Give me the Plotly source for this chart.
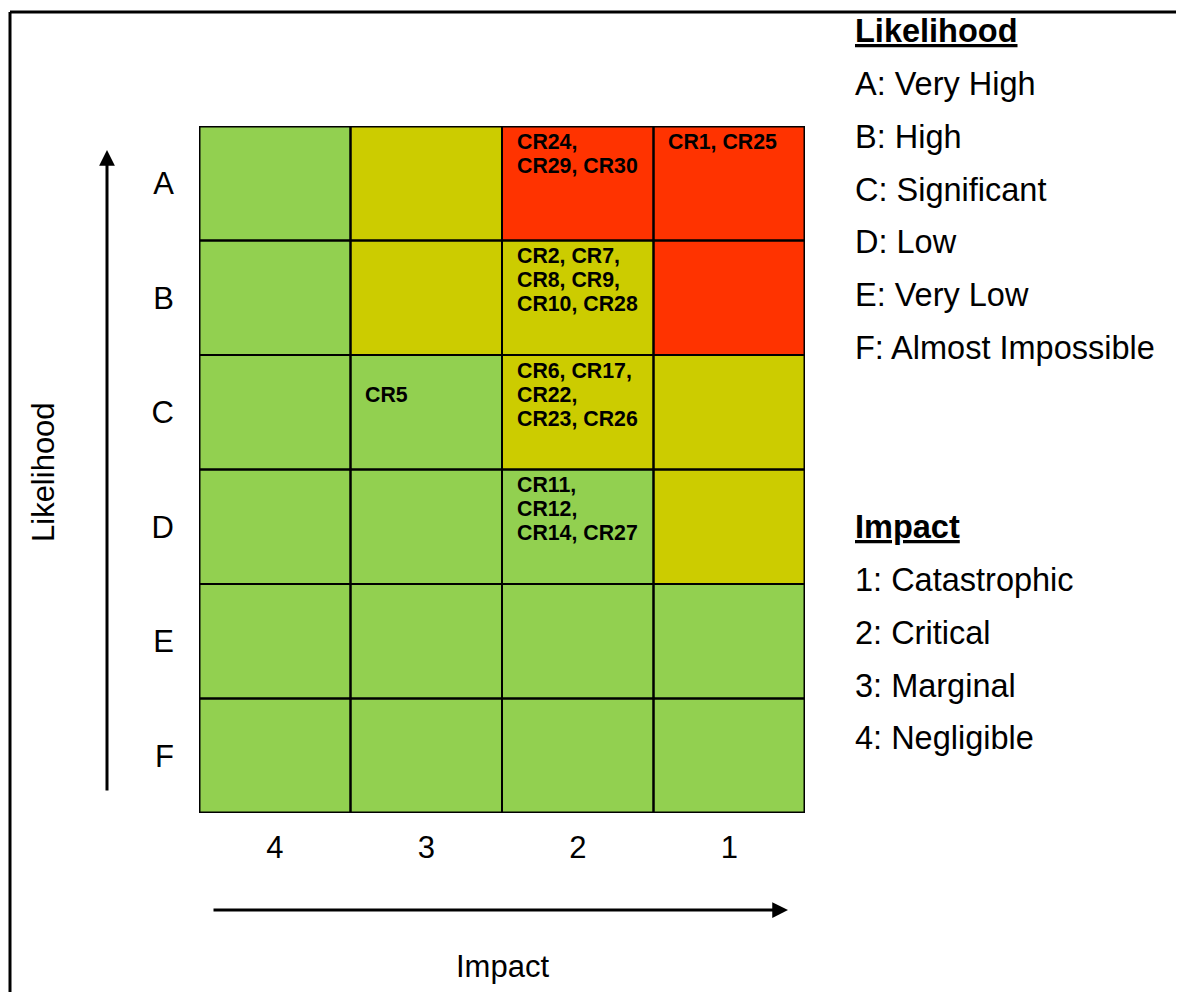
import plotly.graph_objects as go

# ---------------- data ----------------
likelihood = ["A", "B", "C", "D", "E", "F"]
impact = ["4", "3", "2", "1"]
# risk level per cell: 0 = low (green), 1 = medium (yellow), 2 = high (red)
risk_level = [
    [0, 1, 2, 2],
    [0, 1, 1, 2],
    [0, 0, 1, 1],
    [0, 0, 0, 1],
    [0, 0, 0, 0],
    [0, 0, 0, 0],
]
cell_risks = {
    ("A", "2"): "CR24,\nCR29, CR30",
    ("A", "1"): "CR1, CR25",
    ("B", "2"): "CR2, CR7,\nCR8, CR9,\nCR10, CR28",
    ("C", "3"): "\nCR5",
    ("C", "2"): "CR6, CR17,\nCR22,\nCR23, CR26",
    ("D", "2"): "CR11,\nCR12,\nCR14, CR27",
}
likelihood_legend = ["A: Very High", "B: High", "C: Significant", "D: Low",
                     "E: Very Low", "F: Almost Impossible"]
impact_legend = ["1: Catastrophic", "2: Critical", "3: Marginal", "4: Negligible"]
level_colors = ["#92D050", "#CCCC00", "#FF3300"]

# ---------------- layout geometry (page pixels) ----------------
OFF = 8                     # page body margin
W, H = 1184 - OFF, 992 - OFF
X0, X1, Y0, Y1 = 199, 805, 126, 813
FONT = "Arial, Liberation Sans, sans-serif"
LEG_SIZE = 32.5


def px(x):
    return (x - X0) / (X1 - X0)


def py(y):
    return (Y1 - y) / (Y1 - Y0)


fig = go.Figure()
fig.add_trace(go.Heatmap(
    x=list(range(len(impact))),
    y=list(range(len(likelihood))),
    z=risk_level,
    zmin=0, zmax=2,
    colorscale=[[0, level_colors[0]], [0.5, level_colors[1]], [1, level_colors[2]]],
    showscale=False,
    hoverinfo="skip",
))

shapes = []
for i in range(len(likelihood)):
    for j in range(len(impact)):
        shapes.append(dict(type="rect", xref="x", yref="y",
                           x0=j - 0.5, x1=j + 0.5, y0=i - 0.5, y1=i + 0.5,
                           line=dict(color="black", width=2), layer="above"))
shapes.append(dict(type="rect", xref="x", yref="y",
                   x0=-0.5, x1=len(impact) - 0.5, y0=-0.5, y1=len(likelihood) - 0.5,
                   line=dict(color="black", width=3), layer="above"))
# page frame (top and left edges)
shapes.append(dict(type="line", xref="paper", yref="paper",
                   x0=px(10), x1=px(1200), y0=py(12), y1=py(12),
                   line=dict(color="black", width=3)))
shapes.append(dict(type="line", xref="paper", yref="paper",
                   x0=px(10), x1=px(10), y0=py(12), y1=py(1000),
                   line=dict(color="black", width=3)))

annotations = []
# cell texts
for (lk, im), txt in cell_risks.items():
    i = likelihood.index(lk)
    j = impact.index(im)
    for k, line in enumerate(txt.split("\n")):
        if not line:
            continue
        annotations.append(dict(
            x=j - 0.5, y=i - 0.5, xref="x", yref="y",
            xanchor="left", yanchor="top", xshift=12.5, yshift=-1.5 - 24 * k,
            text="<b>%s</b>" % line, showarrow=False,
            font=dict(family=FONT, size=21.3, color="black")))

# axis titles
annotations.append(dict(x=px(43), y=py(472), xref="paper", yref="paper",
                        xanchor="center", yanchor="middle",
                        text="Likelihood", textangle=-90, showarrow=False,
                        font=dict(family=FONT, size=31, color="black")))
annotations.append(dict(x=px(502), y=py(966), xref="paper", yref="paper",
                        xanchor="center", yanchor="middle",
                        text="Impact", showarrow=False,
                        font=dict(family=FONT, size=31, color="black")))

# arrows
annotations.append(dict(x=px(107), y=py(150), xref="paper", yref="paper",
                        ax=0, ay=792 - 150, text="", showarrow=True,
                        arrowhead=2, arrowsize=1.05, arrowwidth=3, arrowcolor="black",
                        standoff=0, startstandoff=0))
annotations.append(dict(x=px(788), y=py(910), xref="paper", yref="paper",
                        ax=212 - 788, ay=0, text="", showarrow=True,
                        arrowhead=2, arrowsize=1.05, arrowwidth=3, arrowcolor="black",
                        standoff=0, startstandoff=0))

# legend blocks
annotations.append(dict(x=px(853), y=py(31), xref="paper", yref="paper",
                        xanchor="left", yanchor="middle",
                        text="<b><u>Likelihood</u></b>", showarrow=False,
                        font=dict(family=FONT, size=LEG_SIZE, color="black")))
for k, t in enumerate(likelihood_legend):
    annotations.append(dict(x=px(853), y=py(84 + 52.8 * k), xref="paper", yref="paper",
                            xanchor="left", yanchor="middle", text=t, showarrow=False,
                            font=dict(family=FONT, size=LEG_SIZE, color="black")))
annotations.append(dict(x=px(853), y=py(527), xref="paper", yref="paper",
                        xanchor="left", yanchor="middle",
                        text="<b><u>Impact</u></b>", showarrow=False,
                        font=dict(family=FONT, size=LEG_SIZE, color="black")))
for k, t in enumerate(impact_legend):
    annotations.append(dict(x=px(853), y=py(580 + 52.8 * k), xref="paper", yref="paper",
                            xanchor="left", yanchor="middle", text=t, showarrow=False,
                            font=dict(family=FONT, size=LEG_SIZE, color="black")))

fig.update_layout(
    width=W, height=H, autosize=False,
    margin=dict(l=X0 - OFF, r=W - (X1 - OFF), t=Y0 - OFF, b=H - (Y1 - OFF), pad=0),
    paper_bgcolor="white", plot_bgcolor="white",
    shapes=shapes, annotations=annotations,
    showlegend=False,
    font=dict(family=FONT, color="black"),
    xaxis=dict(range=[-0.5, len(impact) - 0.5], tickvals=list(range(len(impact))),
               ticktext=impact, showgrid=False, zeroline=False, showline=False,
               ticks="", tickfont=dict(family=FONT, size=31, color="black"),
               ticklabelstandoff=13, fixedrange=True),
    yaxis=dict(range=[len(likelihood) - 0.5, -0.5], tickvals=list(range(len(likelihood))),
               ticktext=likelihood, showgrid=False, zeroline=False, showline=False,
               ticks="", tickfont=dict(family=FONT, size=31, color="black"),
               ticklabelstandoff=24, fixedrange=True),
)

fig.write_html("out.html", config={"displayModeBar": False})
